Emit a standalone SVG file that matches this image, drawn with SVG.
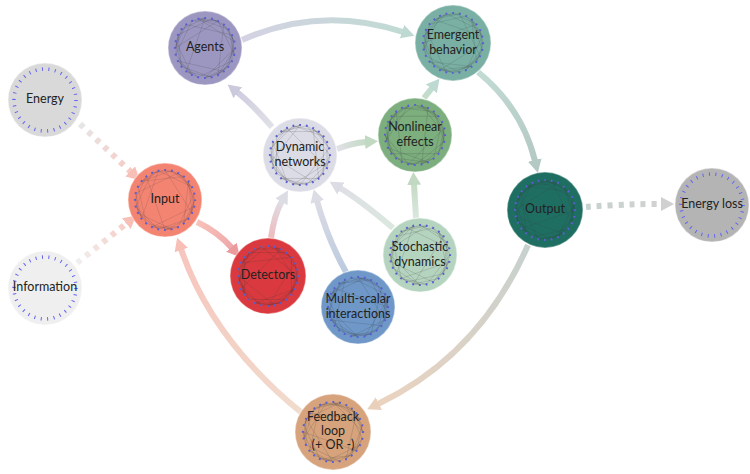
<svg xmlns="http://www.w3.org/2000/svg" xmlns:xlink="http://www.w3.org/1999/xlink" width="750" height="474" viewBox="0 0 750 474">
<style>
.node circle.bg{stroke:#ffffff;stroke-opacity:0.35;stroke-width:1.5}
.lbl{font-family:Lato,"Open Sans","Liberation Sans",sans-serif;font-size:12.5px;fill:#222;text-anchor:middle;dominant-baseline:middle}
.ch{fill:none;stroke:#333;stroke-width:0.5;stroke-opacity:0.3}
.dots{fill:none;stroke:#5a5ed2;stroke-width:2.2;stroke-dasharray:1.8 4.932;stroke-dashoffset:0.9}
.ticks{fill:none;stroke:#6464f0;stroke-width:3.5;stroke-dasharray:1 5.49}
#connectors{opacity:0.85}
.con{fill:none;stroke-width:6}
.dotted{stroke-dasharray:5 6}
</style>
<defs>
<g id="net">
<polyline class="ch" points="0,-30 18.70,-23.45 6.68,-29.25 27.03,-13.02 13.02,-27.03 29.25,-6.68 27.03,13.02 23.45,-18.70 29.25,6.68 18.70,23.45 30,0 23.45,18.70 0,30 13.02,27.03 -13.02,27.03 6.68,29.25 -18.70,23.45 -29.25,6.68 -6.68,29.25 -27.03,13.02 -29.25,-6.68 -23.45,18.70 -30,0 -18.70,-23.45 -27.03,-13.02 -6.68,-29.25 -23.45,-18.70 6.68,-29.25 -13.02,-27.03 0,-30"/>
<path class="ch" d="M18.70,-23.45 L30,0 M29.25,-6.68 L13.02,27.03 M23.45,18.70 L-6.68,29.25 M6.68,29.25 L-27.03,13.02 M-18.70,23.45 L-27.03,-13.02 M-29.25,6.68 L-13.02,-27.03 M-23.45,-18.70 L18.70,-23.45 M-6.68,-29.25 L27.03,-13.02 M29.25,6.68 L-13.02,27.03 M-29.25,-6.68 L13.02,-27.03 M0,-30 L27.03,13.02 M0,30 L-18.70,-23.45 M23.45,-18.70 L18.70,23.45 M-23.45,18.70 L-6.68,-29.25"/>
<circle class="dots" r="30"/>
</g>
<circle id="tick" class="ticks" r="31"/>
<marker id="mInput" markerUnits="userSpaceOnUse" markerWidth="16" markerHeight="16" refX="1" refY="7" orient="auto"><path d="M0,0 L13,7 L0,14 z" fill="#f6b4aa"/></marker>
<marker id="mDet" markerUnits="userSpaceOnUse" markerWidth="16" markerHeight="16" refX="1" refY="7" orient="auto"><path d="M0,0 L13,7 L0,14 z" fill="#e98a8c"/></marker>
<marker id="mDyn" markerUnits="userSpaceOnUse" markerWidth="16" markerHeight="16" refX="1" refY="7" orient="auto"><path d="M0,0 L13,7 L0,14 z" fill="#d6d6e0"/></marker>
<marker id="mNon" markerUnits="userSpaceOnUse" markerWidth="16" markerHeight="16" refX="1" refY="7" orient="auto"><path d="M0,0 L13,7 L0,14 z" fill="#b7d3b8"/></marker>
<marker id="mAg" markerUnits="userSpaceOnUse" markerWidth="16" markerHeight="16" refX="1" refY="7" orient="auto"><path d="M0,0 L13,7 L0,14 z" fill="#c3c1d8"/></marker>
<marker id="mEm" markerUnits="userSpaceOnUse" markerWidth="16" markerHeight="16" refX="1" refY="7" orient="auto"><path d="M0,0 L13,7 L0,14 z" fill="#b3d3ca"/></marker>
<marker id="mOut" markerUnits="userSpaceOnUse" markerWidth="16" markerHeight="16" refX="1" refY="7" orient="auto"><path d="M0,0 L13,7 L0,14 z" fill="#a8c0ba"/></marker>
<marker id="mLoss" markerUnits="userSpaceOnUse" markerWidth="16" markerHeight="16" refX="1" refY="7" orient="auto"><path d="M0,0 L13,7 L0,14 z" fill="#c8c8c8"/></marker>
<marker id="mFb" markerUnits="userSpaceOnUse" markerWidth="16" markerHeight="16" refX="1" refY="7" orient="auto"><path d="M0,0 L13,7 L0,14 z" fill="#e6c8b0"/></marker>
<linearGradient id="g1" gradientUnits="userSpaceOnUse" x1="80" y1="124" x2="131" y2="172"><stop offset="0" stop-color="#e2e2e2"/><stop offset="1" stop-color="#f6c2ba"/></linearGradient>
<linearGradient id="g2" gradientUnits="userSpaceOnUse" x1="77" y1="263" x2="127" y2="223"><stop offset="0" stop-color="#eeeeee"/><stop offset="1" stop-color="#f6c2ba"/></linearGradient>
<linearGradient id="g3" gradientUnits="userSpaceOnUse" x1="197" y1="222" x2="232" y2="248"><stop offset="0" stop-color="#f7b8ae"/><stop offset="1" stop-color="#ec9a9c"/></linearGradient>
<linearGradient id="g4" gradientUnits="userSpaceOnUse" x1="271" y1="238" x2="282" y2="201"><stop offset="0" stop-color="#ecb0b2"/><stop offset="1" stop-color="#d8d8e2"/></linearGradient>
<linearGradient id="g5" gradientUnits="userSpaceOnUse" x1="346" y1="272" x2="317" y2="201"><stop offset="0" stop-color="#b0c2da"/><stop offset="1" stop-color="#d6d6e0"/></linearGradient>
<linearGradient id="g6" gradientUnits="userSpaceOnUse" x1="393" y1="228" x2="340" y2="188"><stop offset="0" stop-color="#d4e4d9"/><stop offset="1" stop-color="#dadae2"/></linearGradient>
<linearGradient id="g7" gradientUnits="userSpaceOnUse" x1="416" y1="218" x2="414" y2="184"><stop offset="0" stop-color="#d4e4d9"/><stop offset="1" stop-color="#bad5bb"/></linearGradient>
<linearGradient id="g8" gradientUnits="userSpaceOnUse" x1="337" y1="149" x2="366" y2="142"><stop offset="0" stop-color="#dcdce4"/><stop offset="1" stop-color="#bad5bb"/></linearGradient>
<linearGradient id="g9" gradientUnits="userSpaceOnUse" x1="272" y1="127" x2="237" y2="92"><stop offset="0" stop-color="#dcdce4"/><stop offset="1" stop-color="#c6c4da"/></linearGradient>
<linearGradient id="g10" gradientUnits="userSpaceOnUse" x1="242" y1="40" x2="403" y2="32"><stop offset="0" stop-color="#cdcbdf"/><stop offset="1" stop-color="#b6d5cc"/></linearGradient>
<linearGradient id="g11" gradientUnits="userSpaceOnUse" x1="424" y1="98" x2="432" y2="88"><stop offset="0" stop-color="#bcd8be"/><stop offset="1" stop-color="#b6d5cc"/></linearGradient>
<linearGradient id="g12" gradientUnits="userSpaceOnUse" x1="478" y1="72" x2="535" y2="161"><stop offset="0" stop-color="#b8d6cd"/><stop offset="1" stop-color="#a8c0ba"/></linearGradient>
<linearGradient id="g13" gradientUnits="userSpaceOnUse" x1="586" y1="207" x2="662" y2="204"><stop offset="0" stop-color="#bccbc7"/><stop offset="1" stop-color="#cacaca"/></linearGradient>
<linearGradient id="g14" gradientUnits="userSpaceOnUse" x1="528" y1="245" x2="378" y2="404"><stop offset="0" stop-color="#bdcac6"/><stop offset="1" stop-color="#e8ccb5"/></linearGradient>
<linearGradient id="g15" gradientUnits="userSpaceOnUse" x1="302" y1="413" x2="181" y2="249"><stop offset="0" stop-color="#eed6c4"/><stop offset="1" stop-color="#f6bcb3"/></linearGradient>
</defs>

<g id="connectors">
<path class="con dotted" stroke="url(#g1)" d="M80,124 L131,172" marker-end="url(#mInput)"/>
<path class="con dotted" stroke="url(#g2)" d="M77,263 L127,223" marker-end="url(#mInput)"/>
<path class="con" stroke="url(#g3)" d="M197,222 Q218,232 232,248" marker-end="url(#mDet)"/>
<path class="con" stroke="url(#g4)" d="M271,238 Q274,215 282,201" marker-end="url(#mDyn)"/>
<path class="con" stroke="url(#g5)" d="M346,272 Q328,240 317,201" marker-end="url(#mDyn)"/>
<path class="con" stroke="url(#g6)" d="M393,228 Q360,200 340,188" marker-end="url(#mDyn)"/>
<path class="con" stroke="url(#g7)" d="M416,218 L414,184" marker-end="url(#mNon)"/>
<path class="con" stroke="url(#g8)" d="M337,149 Q352,143 366,142" marker-end="url(#mNon)"/>
<path class="con" stroke="url(#g9)" d="M272,127 Q252,104 237,92" marker-end="url(#mAg)"/>
<path class="con" stroke="url(#g10)" d="M242,40 Q320,5 403,32" marker-end="url(#mEm)"/>
<path class="con" stroke="url(#g11)" d="M424,98 L432,88" marker-end="url(#mEm)"/>
<path class="con" stroke="url(#g12)" d="M478,72 Q522,108 535,161" marker-end="url(#mOut)"/>
<path class="con dotted" stroke="url(#g13)" d="M586,207 Q620,204 662,204" marker-end="url(#mLoss)"/>
<path class="con" stroke="url(#g14)" d="M528,245 Q480,355 378,404" marker-end="url(#mFb)"/>
<path class="con" stroke="url(#g15)" d="M302,413 Q212,340 181,249" marker-end="url(#mInput)"/>
</g>

<g id="energy" class="node" transform="translate(45,100)">
<circle class="bg" r="37" fill="#d9d9d9"/><use href="#tick"/>
<text class="lbl" y="0">Energy</text>
</g>
<g id="information" class="node" transform="translate(45,288)">
<circle class="bg" r="37" fill="#efefef"/><use href="#tick"/>
<text class="lbl" y="0">Information</text>
</g>
<g id="input" class="node" transform="translate(165,200)">
<circle class="bg" r="37" fill="#f48472"/><use href="#net"/>
<text class="lbl" y="0">Input</text>
</g>
<g id="agents" class="node" transform="translate(205,48)">
<circle class="bg" r="37" fill="#9c97c0"/><use href="#net" transform="rotate(38.571)"/>
<text class="lbl" y="0">Agents</text>
</g>
<g id="emergent" class="node" transform="translate(453,43)">
<circle class="bg" r="38" fill="#79b0a3"/><use href="#net" transform="rotate(90)"/>
<text class="lbl" y="-7">Emergent</text>
<text class="lbl" y="8">behavior</text>
</g>
<g id="dynamic" class="node" transform="translate(300,155)">
<circle class="bg" r="37" fill="#dcdce6"/><use href="#net" transform="rotate(154.286)"/>
<text class="lbl" y="-7">Dynamic</text>
<text class="lbl" y="8">networks</text>
</g>
<g id="nonlinear" class="node" transform="translate(415,135)">
<circle class="bg" r="37" fill="#7cae7e"/><use href="#net" transform="rotate(205.714)"/>
<text class="lbl" y="-7">Nonlinear</text>
<text class="lbl" y="8">effects</text>
</g>
<g id="output" class="node" transform="translate(545,210)">
<circle class="bg" r="38" fill="#1f6e62"/><use href="#net" transform="rotate(270)"/>
<text class="lbl" y="0">Output</text>
</g>
<g id="energyloss" class="node" transform="translate(712,205)">
<circle class="bg" r="37" fill="#b4b4b4"/><use href="#tick"/>
<text class="lbl" y="0">Energy loss</text>
</g>
<g id="detectors" class="node" transform="translate(268,276)">
<circle class="bg" r="38" fill="#da3a3f"/><use href="#net" transform="rotate(64.286)"/>
<text class="lbl" y="0">Detectors</text>
</g>
<g id="multiscalar" class="node" transform="translate(358,307)">
<circle class="bg" r="37" fill="#6f98c8"/><use href="#net" transform="rotate(128.571)"/>
<text class="lbl" y="-7">Multi-scalar</text>
<text class="lbl" y="8">interactions</text>
</g>
<g id="stochastic" class="node" transform="translate(420,255)">
<circle class="bg" r="37" fill="#b5d4bf"/><use href="#net" transform="rotate(231.429)"/>
<text class="lbl" y="-7">Stochastic</text>
<text class="lbl" y="8">dynamics</text>
</g>
<g id="feedback" class="node" transform="translate(333,432)">
<circle class="bg" r="38" fill="#d6a37c"/><use href="#net" transform="rotate(308.571)"/>
<text class="lbl" y="-14">Feedback</text>
<text class="lbl" y="0">loop</text>
<text class="lbl" y="14">(+ OR -)</text>
</g>
</svg>
